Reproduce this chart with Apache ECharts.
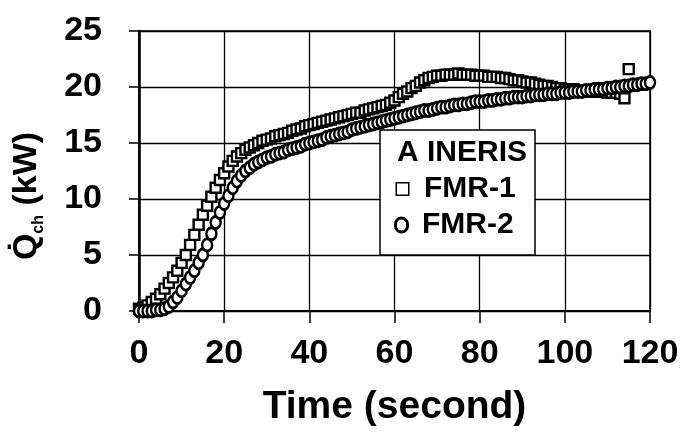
<!DOCTYPE html>
<html>
<head>
<meta charset="utf-8">
<script src="https://cdn.jsdelivr.net/npm/echarts@6/dist/echarts.min.js"></script>
<style>
html,body{margin:0;padding:0;background:#fff;}
#c{width:684px;height:435px;}
</style>
</head>
<body>
<div id="c"></div>
<script>
// Time (s) and heat release rate (kW)
const timeFMR1 = [0,1,2,3,4,5,6,7,8,9,
  10,11,12,13,14,15,16,17,18,19,
  20,21,22,23,24,25,26,27,28,29,
  30,31,32,33,34,35,36,37,38,39,
  40,41,42,43,44,45,46,47,48,49,
  50,51,52,53,54,55,56,57,58,59,
  60,61,62,63,64,65,66,67,68,69,
  70,71,72,73,74,75,76,77,78,79,
  80,81,82,83,84,85,86,87,88,89,
  90,91,92,93,94,95,96,97,98,99,
  100,101,102,103,104,105,106,107,108,109,
  110,111,112,113,114,115];
const valFMR1 = [0.2,0.3,0.5,0.8,1.1,1.5,2.0,2.5,3.0,3.6,
  4.3,5.0,5.9,6.8,7.7,8.6,9.4,10.2,11.0,11.7,
  12.3,12.9,13.4,13.8,14.1,14.4,14.6,14.8,15.0,15.2,
  15.3,15.4,15.6,15.7,15.8,15.9,16.1,16.2,16.3,16.5,
  16.6,16.7,16.8,16.9,17.0,17.1,17.2,17.3,17.4,17.5,
  17.6,17.7,17.7,17.9,18.0,18.1,18.2,18.3,18.4,18.6,
  18.8,19.1,19.4,19.6,19.9,20.1,20.4,20.6,20.8,20.9,
  21.0,21.0,21.1,21.1,21.1,21.2,21.1,21.1,21.1,21.0,
  21.0,21.0,20.9,20.9,20.9,20.8,20.8,20.7,20.6,20.6,
  20.5,20.4,20.4,20.3,20.2,20.1,20.1,20.0,19.9,19.9,
  19.8,19.8,19.8,19.7,19.7,19.7,19.6,19.6,19.6,19.6,
  19.5,19.5,19.5,19.4,19.0,21.6];
const timeFMR2 = [0,1,2,3,4,5,6,7,8,9,
  10,11,12,13,14,15,16,17,18,19,
  20,21,22,23,24,25,26,27,28,29,
  30,31,32,33,34,35,36,37,38,39,
  40,41,42,43,44,45,46,47,48,49,
  50,51,52,53,54,55,56,57,58,59,
  60,61,62,63,64,65,66,67,68,69,
  70,71,72,73,74,75,76,77,78,79,
  80,81,82,83,84,85,86,87,88,89,
  90,91,92,93,94,95,96,97,98,99,
  100,101,102,103,104,105,106,107,108,109,
  110,111,112,113,114,115,116,117,118,119,
  120];
const valFMR2 = [0.0,0.0,0.0,0.0,0.1,0.1,0.2,0.4,0.8,1.2,
  1.8,2.4,3.0,3.6,4.3,5.0,5.9,6.9,7.9,8.8,
  9.6,10.3,11.0,11.6,12.1,12.5,12.8,13.1,13.3,13.5,
  13.7,13.8,14.0,14.1,14.2,14.4,14.5,14.6,14.7,14.9,
  15.0,15.1,15.2,15.3,15.5,15.6,15.7,15.8,15.9,16.0,
  16.2,16.3,16.4,16.5,16.6,16.7,16.8,16.9,17.0,17.1,
  17.2,17.3,17.4,17.5,17.6,17.7,17.8,17.9,17.9,18.0,
  18.1,18.2,18.2,18.3,18.4,18.4,18.5,18.5,18.6,18.7,
  18.7,18.7,18.8,18.8,18.9,18.9,19.0,19.0,19.1,19.1,
  19.1,19.2,19.2,19.3,19.3,19.3,19.4,19.4,19.4,19.5,
  19.5,19.5,19.6,19.6,19.6,19.7,19.7,19.8,19.8,19.8,
  19.9,19.9,20.0,20.0,20.1,20.1,20.2,20.2,20.3,20.3,
  20.4];
const valINERIS = [];
const seriesNames = ['INERIS', 'FMR-1', 'FMR-2'];
const legendMarks = {'INERIS': 'A', 'FMR-1': 'sq', 'FMR-2': 'ci'};

const FONT = '"Liberation Sans", Arial, Helvetica, sans-serif';
const pairs = (t, v) => t.map((x, i) => [x, v[i]]);

const chart = echarts.init(document.getElementById('c'), null, {renderer: 'canvas'});
chart.setOption({
  animation: false,
  backgroundColor: '#fff',
  grid: {left: 139, right: 34, top: 31, bottom: 124, show: true, borderColor: '#000', borderWidth: 1.5, backgroundColor: 'transparent'},
  xAxis: {
    type: 'value', min: 0, max: 120, interval: 20,
    name: 'Time (second)', nameLocation: 'middle', nameGap: 77,
    nameTextStyle: {fontFamily: FONT, fontWeight: 'bold', fontSize: 39, color: '#000'},
    axisLine: {lineStyle: {color: '#000', width: 2}},
    axisTick: {show: true, length: 12, lineStyle: {color: '#000', width: 1.5}},
    axisLabel: {margin: 26, fontFamily: FONT, fontWeight: 'bold', fontSize: 34, color: '#000'},
    splitLine: {show: true, lineStyle: {color: '#000', width: 1.3}}
  },
  yAxis: {
    type: 'value', min: 0, max: 25, interval: 5,
    name: '{q|Q\u0307}{s|ch}{q| (kW)}{sp| }', nameLocation: 'middle', nameGap: 92, nameRotate: 90,
    nameTextStyle: {
      rich: {
        q: {fontFamily: FONT, fontWeight: 'bold', fontSize: 34, color: '#000', lineHeight: 40},
        s: {fontFamily: FONT, fontWeight: 'bold', fontSize: 16, color: '#000', lineHeight: 40, verticalAlign: 'bottom'},
        sp: {width: 50, fontSize: 10, lineHeight: 40}
      }
    },
    axisLine: {lineStyle: {color: '#000', width: 2.5}},
    axisTick: {show: true, length: 10, lineStyle: {color: '#000', width: 1.5}},
    axisLabel: {margin: 37, fontFamily: FONT, fontWeight: 'bold', fontSize: 34, color: '#000'},
    splitLine: {show: true, lineStyle: {color: '#000', width: 1.3}}
  },
  legend: {
    orient: 'vertical', left: 380, top: 130,
    data: seriesNames.map(n => ({name: n, icon: 'none'})),
    itemWidth: 0, itemHeight: 10, itemGap: 4,
    backgroundColor: '#fff', borderColor: '#000', borderWidth: 1.5,
    padding: [7, 8, 14, 12], selectedMode: false,
    formatter: function (name) {
      const m = legendMarks[name];
      if (m === 'A') return '{a|A}{t|' + name + '}';
      return '{' + m + '| }{g| }{t|' + name + '}';
    },
    textStyle: {
      lineHeight: 32,
      rich: {
        a: {fontFamily: FONT, fontWeight: 'bold', fontSize: 30, color: '#000', width: 30},
        t: {fontFamily: FONT, fontWeight: 'bold', fontSize: 30, color: '#000'},
        sq: {width: 11, height: 11, borderColor: '#000', borderWidth: 1.5, backgroundColor: '#fff'},
        ci: {width: 9, height: 11, borderColor: '#000', borderWidth: 3, borderRadius: 6, backgroundColor: '#fff'},
        g: {width: 16, fontSize: 10}
      }
    }
  },
  series: [
    {name: 'INERIS', type: 'scatter', data: valINERIS, symbol: 'triangle', symbolSize: 10,
     itemStyle: {color: '#fff', borderColor: '#000', borderWidth: 2}},
    {name: 'FMR-1', type: 'scatter', data: pairs(timeFMR1, valFMR1), symbol: 'rect', symbolSize: [10, 10],
     itemStyle: {color: '#fff', borderColor: '#000', borderWidth: 2.4, opacity: 1}},
    {name: 'FMR-2', type: 'scatter', data: pairs(timeFMR2, valFMR2), symbol: 'circle', symbolSize: [10, 12],
     itemStyle: {color: '#fff', borderColor: '#000', borderWidth: 2.6, opacity: 1}}
  ]
});
</script>
</body>
</html>
